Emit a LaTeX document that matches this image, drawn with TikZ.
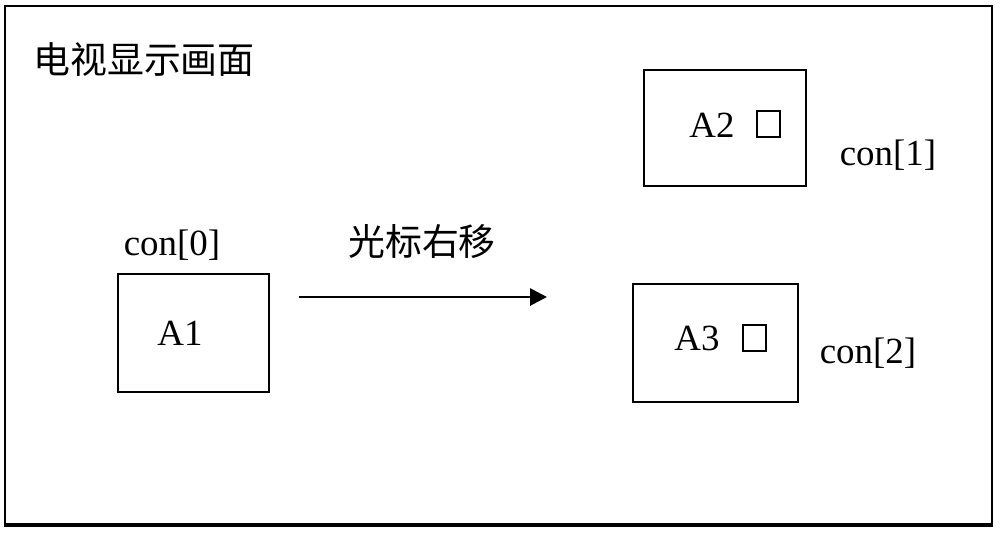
\documentclass[tikz,border=0pt]{standalone}
\usepackage{fontspec}
\setmainfont{Liberation Serif}
\newfontfamily\cjk{Noto Sans CJK SC}
\usetikzlibrary{arrows.meta, positioning}

\begin{document}
\begin{tikzpicture}[x=0.02cm, y=-0.02cm,
    box/.style={draw, line width=1.4pt, inner sep=0pt},
    cursorbox/.style={draw, line width=1.3pt, inner sep=0pt, minimum width=0.46cm, minimum height=0.52cm},
    txt/.style={inner sep=0pt, font=\fontsize{21}{25}\selectfont}]
    \useasboundingbox (0, 0) rectangle (1000, 532);
    % screen frame
    \draw[line width=0.6pt] (5, 6) rectangle (992, 526);
    \draw[line width=2pt] (5, 525) -- (992, 525);
    \node[txt, anchor=west] (title) at (33, 60) {\cjk 电视显示画面};
    % focus boxes
    \node[box, minimum width=3.02cm, minimum height=2.36cm] (a1box) at (193.5, 333) {};
    \node[box, minimum width=3.24cm, minimum height=2.32cm] (a2box) at (725, 128) {};
    \node[box, minimum width=3.3cm, minimum height=2.36cm] (a3box) at (715.5, 343) {};
    \node[txt] (a1) at (180, 333) {A1};
    \node[txt] (a2) at (712, 125) {A2};
    \node[txt] (a3) at (697, 338) {A3};
    \node[cursorbox] (a2cur) at (768.5, 124) {};
    \node[cursorbox] (a3cur) at (754.5, 338) {};
    \node[txt] (con0) at (172, 245) {con[0]};
    \node[txt] (con1) at (888, 155) {con[1]};
    \node[txt] (con2) at (868, 353) {con[2]};
    % cursor move
    \node[txt] (move) at (422, 242) {\cjk 光标右移};
    \coordinate (movestart) at (299, 297);
    \coordinate (moveend) at (547, 297);
    \draw
    (movestart) edge[-{Triangle[length=0.34cm, width=0.34cm]}, line width=1.6pt] (moveend);
\end{tikzpicture}
\end{document}
